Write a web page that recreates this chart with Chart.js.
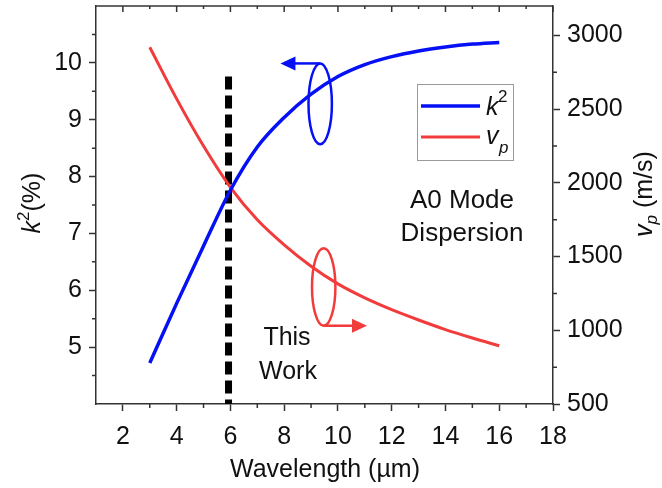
<!DOCTYPE html>
<html>
<head>
<meta charset="utf-8">
<script src="https://cdn.jsdelivr.net/npm/chart.js@4.4.1/dist/chart.umd.min.js"></script>
<style>
  html,body{margin:0;padding:0;background:#fff}
  canvas{display:block}
</style>
</head>
<body>
<canvas id="c" width="662" height="488"></canvas>
<script>
// ── data ──
const WAVELENGTH = [3,4,5,6,7,8,9,10,11,12,13,14,15,16];
const K2 = [4.72,5.77,6.78,7.76,8.52,9.04,9.45,9.76,9.97,10.11,10.21,10.28,10.33,10.36];
const VP = [2920,2570,2250,1970,1750,1580,1435,1315,1220,1140,1070,1005,948,895];
const X_TICKS = [2,4,6,8,10,12,14,16,18];
const X_MINOR = [3,5,7,9,11,13,15,17];
const K2_TICKS = [5,6,7,8,9,10];
const K2_MINOR = [4.5,5.5,6.5,7.5,8.5,9.5,10.5];
const VP_TICKS = [500,1000,1500,2000,2500,3000];
const VP_MINOR = [750,1250,1750,2250,2750];
const THIS_WORK_X = 5.93;
const THIS_WORK_TOP = 9.76;

const BLUE = '#0510f5', RED = '#f23c3c', AXIS = '#333', TXT = '#111';
const FONT = '"Liberation Sans", Arial, sans-serif';

Chart.defaults.font.family = FONT;
Chart.defaults.color = TXT;

const pts = (xs, ys) => xs.map((x,i)=>({x:x, y:ys[i]}));

// draw the things Chart.js has no option for: minor ticks, top frame, loops, legend, texts
const extras = {
  id:'extras',
  afterDraw(chart){
    const ctx = chart.ctx, ca = chart.chartArea;
    const sx = chart.scales.x, sk = chart.scales.y, sv = chart.scales.y1;
    ctx.save();
    // top frame + inward ticks
    ctx.strokeStyle = AXIS; ctx.lineWidth = 1.5;
    ctx.beginPath(); ctx.moveTo(ca.left, ca.top); ctx.lineTo(ca.right, ca.top); ctx.stroke();
    ctx.beginPath();
    X_TICKS.forEach(v=>{const p=sx.getPixelForValue(v); ctx.moveTo(p,ca.top); ctx.lineTo(p,ca.top+6);});
    X_MINOR.forEach(v=>{const p=sx.getPixelForValue(v); ctx.moveTo(p,ca.top); ctx.lineTo(p,ca.top+3); ctx.moveTo(p,ca.bottom); ctx.lineTo(p,ca.bottom+4);});
    K2_MINOR.forEach(v=>{const p=sk.getPixelForValue(v); ctx.moveTo(ca.left,p); ctx.lineTo(ca.left-4,p);});
    VP_MINOR.forEach(v=>{const p=sv.getPixelForValue(v); ctx.moveTo(ca.right,p); ctx.lineTo(ca.right+4,p);});
    ctx.stroke();

    // loops with arrows pointing to each curve's axis
    const loop = (scaleY, cx, cy, rx, ry, tipX, up, col) => {
      const px = sx.getPixelForValue(cx), py = scaleY.getPixelForValue(cy);
      const rpx = Math.abs(sx.getPixelForValue(cx+rx)-px), rpy = Math.abs(scaleY.getPixelForValue(cy+ry)-py);
      ctx.strokeStyle = col; ctx.fillStyle = col; ctx.lineWidth = 2.5;
      ctx.beginPath(); ctx.ellipse(px, py, rpx, rpy, 0, 0, Math.PI*2); ctx.stroke();
      const ay = up ? py-rpy : py+rpy, tx = sx.getPixelForValue(tipX);
      const dir = tx < px ? 1 : -1;
      ctx.beginPath(); ctx.moveTo(px, ay); ctx.lineTo(tx+dir*14, ay); ctx.stroke();
      ctx.beginPath(); ctx.moveTo(tx, ay); ctx.lineTo(tx+dir*15, ay-7); ctx.lineTo(tx+dir*15, ay+7); ctx.closePath(); ctx.fill();
    };
    loop(sk, 9.34, 9.28, 0.435, 0.71, 7.86, true, BLUE);
    loop(sv, 9.47, 1294, 0.435, 263, 11.08, false, RED);

    // legend
    ctx.strokeStyle = '#9a9a9a'; ctx.lineWidth = 1;
    ctx.strokeRect(417.5, 84.5, 96, 76);
    ctx.lineWidth = 3.5;
    ctx.strokeStyle = chart.data.datasets[0].borderColor;
    ctx.beginPath(); ctx.moveTo(421, 106); ctx.lineTo(480, 106); ctx.stroke();
    ctx.lineWidth = 3;
    ctx.strokeStyle = chart.data.datasets[1].borderColor;
    ctx.beginPath(); ctx.moveTo(421, 137); ctx.lineTo(480, 137); ctx.stroke();
    ctx.fillStyle = TXT; ctx.textBaseline = 'alphabetic'; ctx.textAlign = 'left';
    ctx.font = 'italic 25px ' + FONT; ctx.fillText('k', 486, 115);
    ctx.font = '17px ' + FONT; ctx.fillText('2', 498, 102);
    ctx.font = 'italic 25px ' + FONT; ctx.fillText('v', 486, 144);
    ctx.font = 'italic 17px ' + FONT; ctx.fillText('p', 499, 153);

    // texts
    ctx.font = '26px ' + FONT; ctx.textAlign = 'center'; ctx.textBaseline = 'middle';
    ctx.fillText('A0 Mode', 462, 201);
    ctx.fillText('Dispersion', 462, 234);
    ctx.font = '25px ' + FONT;
    ctx.fillText('This', 287, 338);
    ctx.fillText('Work', 288, 372);
    ctx.fillText('Wavelength (\u00b5m)', 325, 470);

    // left title k²(%)
    ctx.save(); ctx.translate(40, 203); ctx.rotate(-Math.PI/2);
    ctx.textAlign = 'left'; ctx.textBaseline = 'alphabetic';
    ctx.font = 'italic 25px ' + FONT; const wk = ctx.measureText('k').width;
    ctx.font = '17px ' + FONT; const w2 = ctx.measureText('2').width;
    ctx.font = '25px ' + FONT; const wp = ctx.measureText('(%)').width;
    let x0 = -(wk+w2+wp)/2;
    ctx.font = 'italic 25px ' + FONT; ctx.fillText('k', x0, 0);
    ctx.font = '17px ' + FONT; ctx.fillText('2', x0+wk, -11);
    ctx.font = '25px ' + FONT; ctx.fillText('(%)', x0+wk+w2, 0);
    ctx.restore();

    // right title v_p (m/s)
    ctx.save(); ctx.translate(652, 194); ctx.rotate(-Math.PI/2);
    ctx.textAlign = 'left'; ctx.textBaseline = 'alphabetic';
    ctx.font = 'italic 25px ' + FONT; const wv = ctx.measureText('v').width;
    ctx.font = 'italic 17px ' + FONT; const wpp = ctx.measureText('p').width;
    ctx.font = '25px ' + FONT; const wu = ctx.measureText(' (m/s)').width;
    x0 = -(wv+wpp+wu)/2;
    ctx.font = 'italic 25px ' + FONT; ctx.fillText('v', x0, 0);
    ctx.font = 'italic 17px ' + FONT; ctx.fillText('p', x0+wv, 5);
    ctx.font = '25px ' + FONT; ctx.fillText(' (m/s)', x0+wv+wpp, 0);
    ctx.restore();

    ctx.restore();
  }
};

const axisGrid = {display:true, drawOnChartArea:false, drawTicks:true, tickLength:7, tickWidth:1.5, tickColor:AXIS};
const axisBorder = {display:true, color:AXIS, width:1.5};
const tickFont = {size:25, family:FONT};
const noPad = s => { s.paddingTop = 0; s.paddingBottom = 0; s.paddingLeft = 0; s.paddingRight = 0; };

new Chart(document.getElementById('c'), {
  type:'line',
  data:{datasets:[
    {label:'k2', data:pts(WAVELENGTH,K2), yAxisID:'y', borderColor:BLUE, borderWidth:3.5, pointRadius:0, tension:0.4, cubicInterpolationMode:'monotone', fill:false},
    {label:'vp', data:pts(WAVELENGTH,VP), yAxisID:'y1', borderColor:RED, borderWidth:3, pointRadius:0, tension:0.4, cubicInterpolationMode:'monotone', fill:false},
    {label:'This Work', data:[{x:THIS_WORK_X,y:THIS_WORK_TOP},{x:THIS_WORK_X,y:4}], yAxisID:'y', borderColor:'#000', borderWidth:7, borderDash:[13,6], borderCapStyle:'butt', pointRadius:0, fill:false}
  ]},
  options:{
    responsive:false, animation:false, events:[],
    layout:{padding:{top:6,left:0,right:0,bottom:0}},
    plugins:{legend:{display:false}, tooltip:{enabled:false}},
    scales:{
      x:{type:'linear', min:1, max:18, grid:axisGrid, border:axisBorder,
         afterBuildTicks:s=>{s.ticks = X_TICKS.map(v=>({value:v}));},
         afterFit:s=>{s.height = 84; noPad(s);},
         ticks:{font:tickFont, color:TXT, padding:11, maxRotation:0, autoSkip:false, callback:v=>String(v)}},
      y:{type:'linear', position:'left', min:4, max:11, grid:axisGrid, border:axisBorder,
         afterBuildTicks:s=>{s.ticks = K2_TICKS.map(v=>({value:v}));},
         afterFit:s=>{s.width = 96; noPad(s);},
         ticks:{font:tickFont, color:TXT, padding:7, autoSkip:false, callback:v=>String(v)}},
      y1:{type:'linear', position:'right', min:500, max:3200, grid:axisGrid, border:axisBorder,
         afterBuildTicks:s=>{s.ticks = VP_TICKS.map(v=>({value:v}));},
         afterFit:s=>{s.width = 109; noPad(s);},
         ticks:{font:tickFont, color:TXT, padding:7, autoSkip:false, callback:v=>String(v)}}
    }
  },
  plugins:[extras]
});
</script>
</body>
</html>
